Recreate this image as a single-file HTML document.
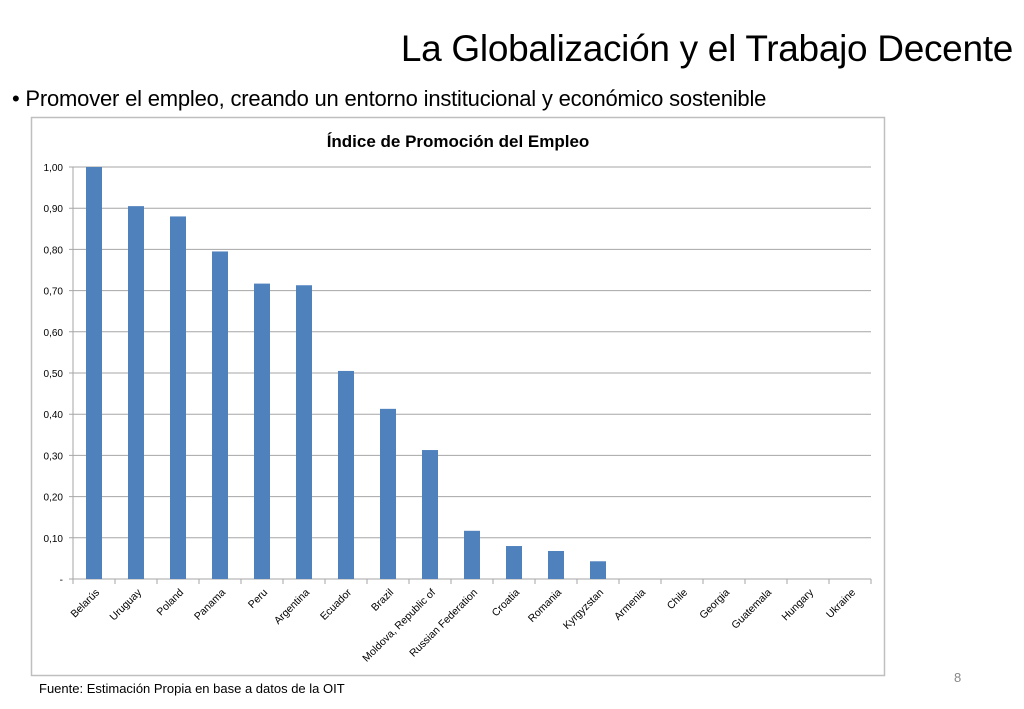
<!DOCTYPE html>
<html><head><meta charset="utf-8"><style>
body{margin:0;width:1024px;height:709px;background:#fff;font-family:"Liberation Sans",sans-serif;position:relative;overflow:hidden}
.t{position:absolute;white-space:nowrap;color:#000}
</style></head><body>
<div class="t" style="right:11px;top:28px;font-size:37px;letter-spacing:-0.3px">La Globalización y el Trabajo Decente</div>
<div class="t" style="left:12px;top:86px;font-size:22px;letter-spacing:-0.2px">• Promover el empleo, creando un entorno institucional y económico sostenible</div>
<svg width="1024" height="709" style="position:absolute;left:0;top:0" id="ch">
<rect x="31.5" y="117.5" width="853" height="558" fill="none" stroke="#bfbfbf" stroke-width="1.5"/>
<text x="458" y="147" text-anchor="middle" font-size="17" font-weight="bold" font-family="Liberation Sans, sans-serif">Índice de Promoción del Empleo</text>
<g id="grid"></g><g id="bars"></g><g id="xl"></g>
</svg>
<div class="t" style="left:39px;top:681px;font-size:13px">Fuente: Estimación Propia en base a datos de la OIT</div>
<div class="t" style="left:954px;top:670px;font-size:13px;color:#888">8</div>
<script>
const categories=["Belarús","Uruguay","Poland","Panama","Peru","Argentina","Ecuador","Brazil","Moldova, Republic of","Russian Federation","Croatia","Romania","Kyrgyzstan","Armenia","Chile","Georgia","Guatemala","Hungary","Ukraine"];
const values=[1.00,0.905,0.88,0.795,0.717,0.713,0.505,0.413,0.313,0.117,0.08,0.068,0.043,0,0,0,0,0,0];
const tickLabels=["-","0,10","0,20","0,30","0,40","0,50","0,60","0,70","0,80","0,90","1,00"];
const tickValues=[0,0.1,0.2,0.3,0.4,0.5,0.6,0.7,0.8,0.9,1.0];
const NS="http://www.w3.org/2000/svg";
const L=73,R=871,T=167,B=579;
const y=v=>B-(v/1.0)*(B-T);
const bw=(R-L)/categories.length;
const x=i=>L+bw*i+bw/2;
function mk(tag,attrs,parent){const e=document.createElementNS(NS,tag);for(const k in attrs)e.setAttribute(k,attrs[k]);document.getElementById(parent).appendChild(e);return e;}
tickValues.forEach((v,i)=>{
  const g=mk("line",{x1:L-4,x2:R,y1:y(v),y2:y(v),stroke:"#a6a6a6","stroke-width":1},"grid");
  
  
  const t=mk("text",{x:L-10,y:y(v)+4,"text-anchor":"end","font-size":10,"font-family":"Liberation Sans, sans-serif"},"grid");
  t.textContent=tickLabels[i];
  
  
});
const ax=mk("line",{x1:L,x2:L,y1:T,y2:B+4,stroke:"#a6a6a6"},"grid");


for(let i=0;i<=categories.length;i++){
  const tk=mk("line",{x1:L+bw*i,x2:L+bw*i,y1:B,y2:B+5,stroke:"#a6a6a6"},"grid");
  
  
}
categories.forEach((c,i)=>{
  const r=mk("rect",{x:x(i)-8,y:y(values[i]),width:16,height:B-y(values[i]),fill:"#4f81bd"},"bars");
  
  
  const t=mk("text",{x:x(i)+6,y:B+14,"text-anchor":"end","font-size":10.5,"font-family":"Liberation Sans, sans-serif",transform:`rotate(-45 ${x(i)+6} ${B+14})`},"xl");
  t.textContent=c;
  
  
});
</script>
</body></html>
